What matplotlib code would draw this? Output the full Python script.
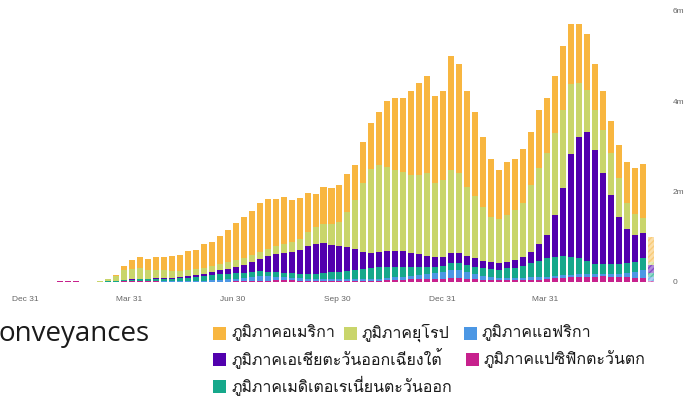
import numpy as np
import pandas as pd
import matplotlib
matplotlib.use('Agg')
import matplotlib.pyplot as plt
import matplotlib.dates as mdates
from matplotlib.patches import Rectangle
from matplotlib import font_manager
from matplotlib.ft2font import FT2Font

# weekly new cases (millions), week starting Monday 2019-12-30
weeks = pd.date_range('2019-12-30', periods=79, freq='7D')

western_pacific = [
    0, 0, 0.0003, 0.003, 0.013, 0.02, 0.025, 0.005, 0.003, 0.004, 0.005,
    0.008, 0.012, 0.018, 0.02, 0.02, 0.015, 0.01, 0.007, 0.006, 0.006, 0.006,
    0.007, 0.008, 0.01, 0.011, 0.012, 0.014, 0.018, 0.025, 0.03, 0.035, 0.035, 0.035,
    0.03, 0.027, 0.025, 0.025, 0.024, 0.024,
    0.025, 0.025, 0.027, 0.03, 0.033, 0.04, 0.05, 0.055, 0.06, 0.065, 0.07, 0.07, 0.075,
    0.085, 0.08, 0.07, 0.06, 0.05, 0.04, 0.035, 0.035, 0.04, 0.045, 0.05, 0.055, 0.065,
    0.08, 0.09, 0.10, 0.11, 0.12, 0.12, 0.13, 0.12, 0.11, 0.10, 0.09, 0.09, 0.03]
africa = [
    0, 0, 0, 0, 0, 0, 0, 0, 0, 0.0001, 0.0005,
    0.001, 0.002, 0.004, 0.005, 0.006, 0.008, 0.01, 0.012, 0.014, 0.017, 0.02,
    0.025, 0.03, 0.04, 0.05, 0.06, 0.075, 0.09, 0.1, 0.095, 0.085, 0.07, 0.06,
    0.05, 0.045, 0.04, 0.04, 0.04, 0.035,
    0.035, 0.035, 0.035, 0.037, 0.04, 0.045, 0.05, 0.06, 0.07, 0.08, 0.1, 0.12, 0.14,
    0.17, 0.18, 0.15, 0.11, 0.08, 0.065, 0.055, 0.05, 0.05, 0.05, 0.05, 0.055, 0.055,
    0.06, 0.06, 0.06, 0.06, 0.06, 0.05, 0.05, 0.06, 0.07, 0.09, 0.12, 0.17, 0.08]
east_med = [
    0, 0, 0, 0, 0, 0, 0, 0.0005, 0.002, 0.006, 0.01,
    0.012, 0.02, 0.03, 0.035, 0.035, 0.04, 0.045, 0.055, 0.06, 0.07, 0.08,
    0.095, 0.11, 0.12, 0.125, 0.12, 0.115, 0.11, 0.11, 0.1, 0.1, 0.1, 0.1,
    0.1, 0.11, 0.115, 0.13, 0.15, 0.17,
    0.19, 0.21, 0.23, 0.25, 0.267, 0.255, 0.24, 0.225, 0.21, 0.195, 0.17, 0.15, 0.135,
    0.155, 0.17, 0.16, 0.17, 0.17, 0.175, 0.18, 0.215, 0.23, 0.255, 0.31, 0.36, 0.40,
    0.42, 0.42, 0.40, 0.35, 0.29, 0.23, 0.22, 0.22, 0.22, 0.22, 0.24, 0.26, 0.08]
se_asia = [
    0, 0, 0, 0, 0, 0, 0, 0, 0, 0.0002, 0.0005,
    0.001, 0.003, 0.006, 0.01, 0.012, 0.015, 0.02, 0.025, 0.03, 0.04, 0.05,
    0.06, 0.075, 0.09, 0.11, 0.14, 0.17, 0.22, 0.27, 0.34, 0.39, 0.43, 0.46,
    0.53, 0.62, 0.67, 0.675, 0.606, 0.571,
    0.52, 0.47, 0.38, 0.33, 0.33, 0.35, 0.35, 0.35, 0.31, 0.28, 0.23, 0.21, 0.20,
    0.22, 0.20, 0.19, 0.18, 0.17, 0.16, 0.16, 0.15, 0.17, 0.20, 0.26, 0.38, 0.52,
    0.92, 1.50, 2.27, 2.69, 2.85, 2.51, 2.00, 1.52, 1.04, 0.76, 0.58, 0.56, 0.18]
europe = [
    0, 0, 0, 0, 0, 0, 0, 0, 0.002, 0.012, 0.04,
    0.10, 0.22, 0.24, 0.23, 0.20, 0.19, 0.17, 0.15, 0.14, 0.13, 0.125,
    0.12, 0.12, 0.13, 0.14, 0.15, 0.15, 0.15, 0.16, 0.17, 0.18, 0.20, 0.22,
    0.25, 0.30, 0.36, 0.42, 0.46, 0.53,
    0.78, 1.07, 1.51, 1.86, 1.92, 1.86, 1.79, 1.75, 1.71, 1.74, 1.83, 1.63, 1.70,
    1.85, 1.77, 1.54, 1.37, 1.19, 1.00, 0.97, 1.03, 1.10, 1.19, 1.47, 1.66, 1.80,
    1.82, 1.73, 1.54, 1.18, 0.92, 0.89, 0.95, 0.93, 0.86, 0.57, 0.47, 0.34, 0.08]
americas = [
    0, 0, 0, 0, 0, 0, 0, 0, 0, 0.0005, 0.004,
    0.028, 0.093, 0.192, 0.25, 0.237, 0.282, 0.295, 0.321, 0.34, 0.417, 0.429,
    0.533, 0.537, 0.63, 0.714, 0.828, 0.916, 0.982, 1.075, 1.105, 1.05, 1.045, 0.935,
    0.90, 0.868, 0.73, 0.80, 0.80, 0.81,
    0.84, 0.78, 0.918, 1.013, 1.17, 1.46, 1.59, 1.62, 1.85, 2.03, 2.15, 1.93, 1.96,
    2.52, 2.42, 2.12, 1.86, 1.55, 1.28, 1.08, 1.17, 1.13, 1.21, 1.17, 1.29, 1.22,
    1.26, 1.42, 1.33, 1.31, 1.23, 1.02, 0.86, 0.71, 0.73, 0.92, 1.03, 1.19, 0.55]

labels = ['ภูมิภาคแปซิฟิกตะวันตก', 'ภูมิภาคแอฟริกา', 'ภูมิภาคเมดิเตอเรเนี่ยนตะวันออก',
          'ภูมิภาคเอเชียตะวันออกเฉียงใต้', 'ภูมิภาคยุโรป', 'ภูมิภาคอเมริกา']
colors = ['#c7218d', '#4c97e4', '#16a88b', '#5200ae', '#c9d56b', '#f8b640']
series = [western_pacific, africa, east_med, se_asia, europe, americas]

tick_dates = ['2019-12-31', '2020-03-31', '2020-06-30', '2020-09-30', '2020-12-31', '2021-03-31']
tick_labels = ['Dec 31', 'Mar 31', 'Jun 30', 'Sep 30', 'Dec 31', 'Mar 31']


def thai_family():
    for f in font_manager.fontManager.ttflist:
        try:
            cmap = FT2Font(f.fname).get_charmap()
        except Exception:
            continue
        if 0x0E20 in cmap and 0x0E39 in cmap and 0x0E34 in cmap:
            return f.name
    return 'DejaVu Sans'


TH = thai_family()
W, H = 692, 403

fig = plt.figure(figsize=(W / 100, H / 100), dpi=100)
ax = fig.add_axes([0, (H - 282) / H, 660 / W, 271.5 / H])

x = mdates.date2num(weeks) + 3.5
bottom = np.zeros(len(weeks))
for vals, col in zip(series, colors):
    v = np.array(vals) * 1e6
    ax.bar(x[:-1], v[:-1], width=5.3, bottom=bottom[:-1], color=col, linewidth=0)
    ax.bar(x[-1:], v[-1:], width=5.3, bottom=bottom[-1:], color=col, alpha=0.45,
           hatch='//////', edgecolor=col, linewidth=0)
    bottom += v

base = mdates.date2num(pd.Timestamp('2019-12-31'))
ax.set_xlim(base - 22.3, base + 556.7)
ax.set_ylim(0, 6e6)
for s in ax.spines.values():
    s.set_visible(False)
ax.set_xticks(mdates.date2num(pd.to_datetime(tick_dates)))
ax.set_xticklabels(tick_labels)
ax.yaxis.tick_right()
ax.set_yticks([0, 2e6, 4e6, 6e6])
ax.set_yticklabels(['0', '2m', '4m', '6m'])
ax.tick_params(length=0, labelsize=6, labelcolor='#666666')
ax.tick_params(axis='x', pad=10)
ax.tick_params(axis='y', pad=9)
for t in ax.get_xticklabels() + ax.get_yticklabels():
    t.set_family('Liberation Sans')


def fx(px):
    return px / W


def fy(py):
    return 1 - py / H


fig.text(fx(-1), fy(334), 'onveyances', fontsize=20, family='Open Sans',
         color='#1a1a1a', va='center', ha='left')

# legend: (series index, swatch x, row y)
legend_items = [(5, 213, 333), (4, 344, 333), (1, 464, 333),
                (3, 213, 359), (0, 466, 359),
                (2, 213, 386)]
for idx, sx, sy in legend_items:
    fig.add_artist(Rectangle((fx(sx), fy(sy + 6.5)), 13 / W, 13 / H,
                             transform=fig.transFigure, color=colors[idx], lw=0))
    fig.text(fx(sx + 18), fy(sy), labels[idx], fontsize=11.5,
             family=[TH, 'DejaVu Sans'], color='#1a1a1a', va='center', ha='left')

fig.savefig('out.png', dpi=100)
